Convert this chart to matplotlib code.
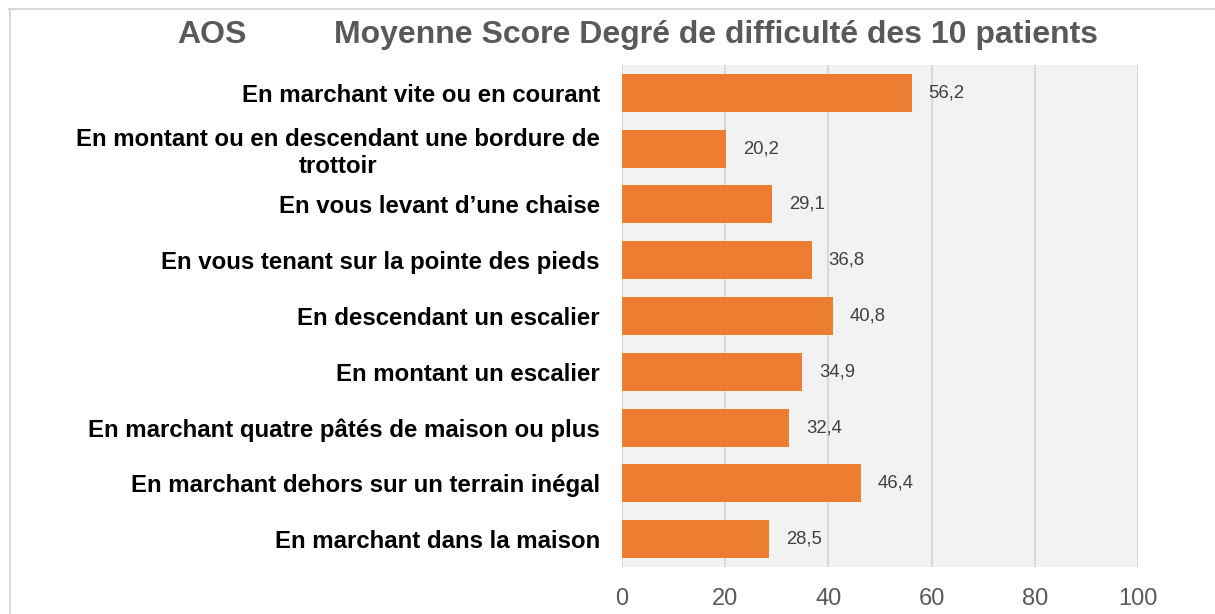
import matplotlib
matplotlib.use("Agg")
import matplotlib.pyplot as plt
from matplotlib.lines import Line2D
import numpy as np

# Data, listed top to bottom as in the chart
labels = [
  "En marchant vite ou en courant",
  "En montant ou en descendant une bordure de\ntrottoir",
  "En vous levant d\u2019une chaise",
  "En vous tenant sur la pointe des pieds",
  "En descendant un escalier",
  "En montant un escalier",
  "En marchant quatre p\u00e2t\u00e9s de maison ou plus",
  "En marchant dehors sur un terrain in\u00e9gal",
  "En marchant dans la maison",
]
scores = [56.2, 20.2, 29.1, 36.8, 40.8, 34.9, 32.4, 46.4, 28.5]
xticks = [0, 20, 40, 60, 80, 100]

plt.rcParams['font.family'] = ['Liberation Sans', 'DejaVu Sans']

W, H = 1215, 614
fig = plt.figure(figsize=(W / 100, H / 100), dpi=100)
ax = fig.add_axes([622 / W, 1 - 567 / H, (1138 - 622) / W, (567 - 65) / H])
ax.set_facecolor("#F2F2F2")

pos = np.arange(len(labels))[::-1]
ax.barh(pos, scores, height=0.68, color="#ED7D31", zorder=3)

# value labels
for p, v in zip(pos, scores):
  ax.annotate(("%.1f" % v).replace(".", ","), xy=(v, p), xytext=(12, 0),
              textcoords="offset points", va="center", ha="left",
              fontsize=13.3, color="#404040")

ax.set_xlim(0, 100)
ax.set_ylim(-0.5, len(labels) - 0.5)
ax.set_xticks(xticks)
ax.set_xticklabels([str(t) for t in xticks], fontsize=17, color="#595959")
ax.set_yticks(pos)
ax.set_yticklabels(labels, fontsize=17.3, fontweight="bold", color="black",
                   multialignment="center")
ax.tick_params(axis="both", length=0)
ax.tick_params(axis="x", pad=15)
ax.tick_params(axis="y", pad=16)
ax.grid(axis="x", color="#D9D9D9", linewidth=1.5, zorder=1)
for s in ax.spines.values():
  s.set_visible(False)

# title
fig.text(177 / W, 1 - 35 / H, "AOS", fontsize=23, fontweight="bold",
         color="#595959", ha="left", va="center")
fig.text(334 / W, 1 - 35 / H,
         "Moyenne Score Degr\u00e9 de difficult\u00e9 des 10 patients",
         fontsize=23, fontweight="bold", color="#595959",
         ha="left", va="center")

# chart frame (top and left edges visible)
fig.add_artist(Line2D([9 / W, 1], [1 - 9 / H, 1 - 9 / H],
                      transform=fig.transFigure, color="#D9D9D9", linewidth=1.5))
fig.add_artist(Line2D([10 / W, 10 / W], [0, 1 - 9 / H],
                      transform=fig.transFigure, color="#D9D9D9", linewidth=1.5))

fig.savefig("out.png", dpi=100)
